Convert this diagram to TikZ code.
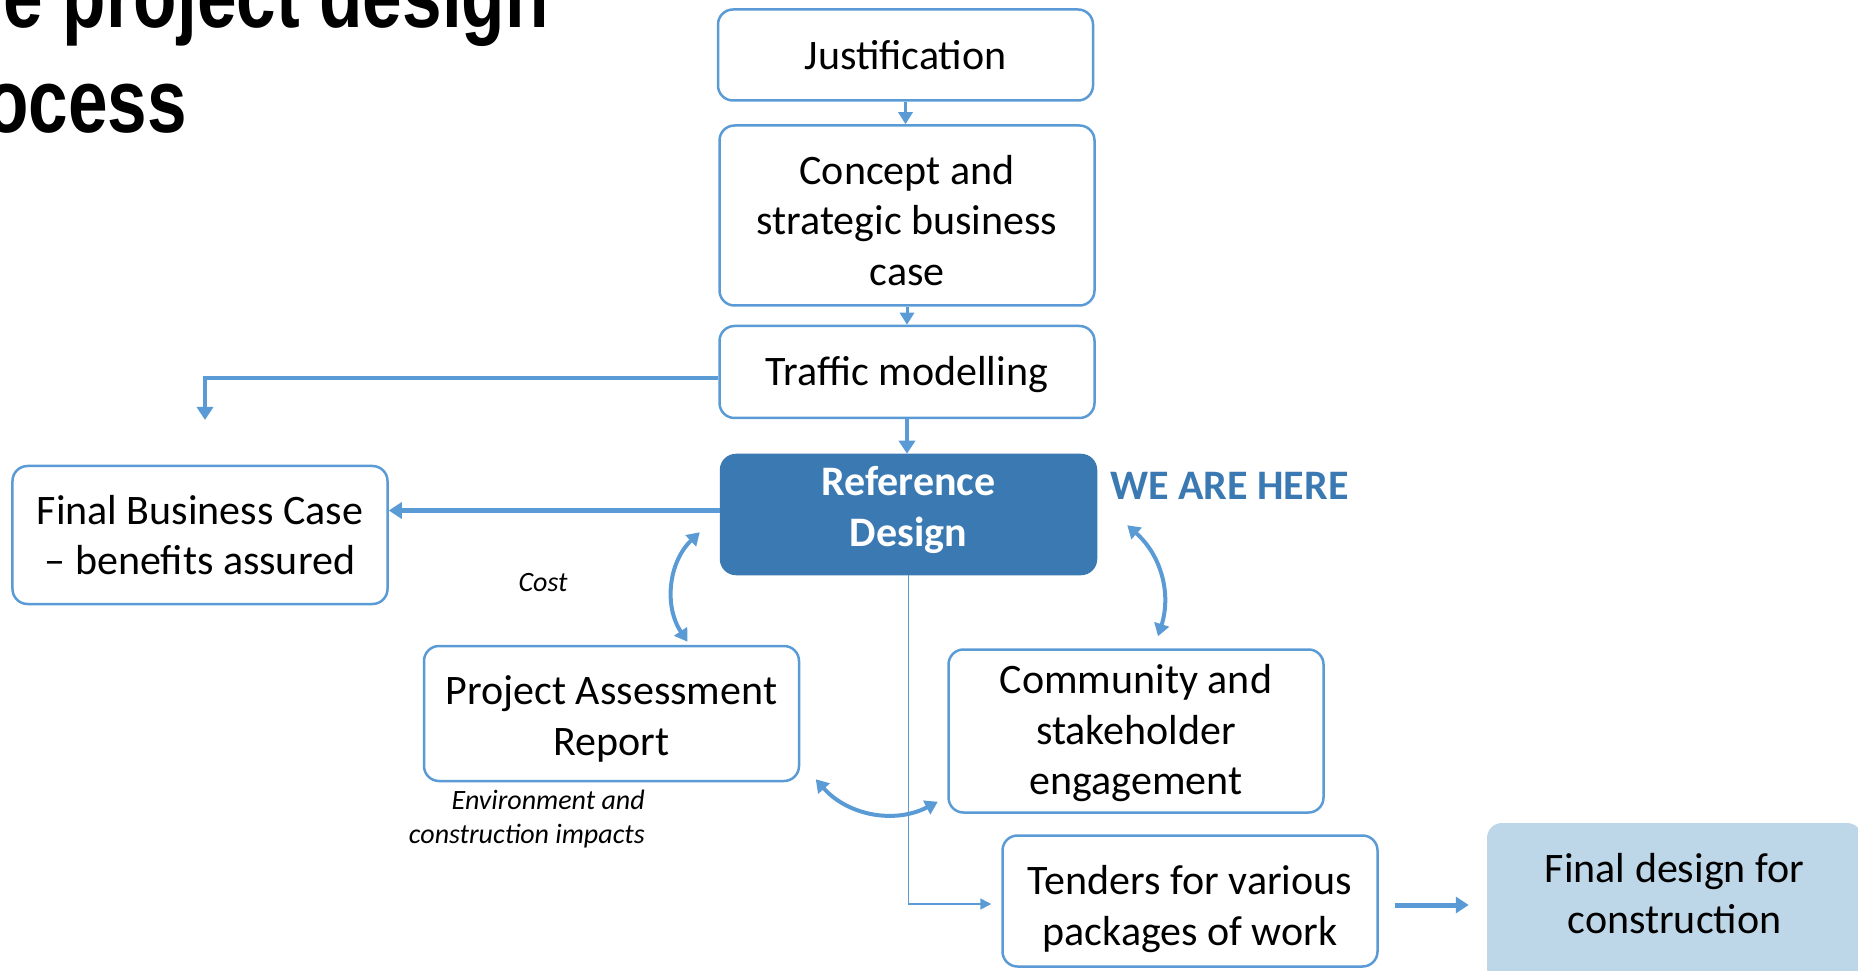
\documentclass[tikz,border=0pt]{standalone}
\usepackage{fontspec}
\setmainfont{Carlito}
\newfontfamily\titlefont{Liberation Sans}[FakeStretch=0.79]
\usetikzlibrary{arrows.meta}

\definecolor{boxblue}{RGB}{91,155,213}
\definecolor{refblue}{RGB}{58,121,178}
\definecolor{finalfill}{RGB}{190,215,232}

\tikzset{every picture/.style={line width=1pt}}
\tikzset{
  stepbox/.style={draw=boxblue, line width=1pt, rounded corners=6pt, fill=white, align=center, minimum width=150pt, inner sep=0pt, font=\fontsize{16.8}{20.2}\selectfont},
  refbox/.style={stepbox, draw=refblue, fill=refblue, text=white, font=\fontsize{16.8}{20.2}\selectfont\bfseries},
  endbox/.style={stepbox, draw=none, fill=finalfill},
  note/.style={inner sep=0pt, font=\fontsize{11.2}{13.4}\selectfont\itshape},
  flow/.style={draw=boxblue, line width=1.2pt, -{Triangle[width=5.6pt,length=4.8pt]}},
  bigflow/.style={draw=boxblue, line width=1.7pt, -{Triangle[width=6.4pt,length=5.2pt]}},
  thinflow/.style={draw=boxblue, line width=0.6pt, -{Triangle[width=4.4pt,length=4.4pt]}},
  twoway/.style={draw=boxblue, line width=1.6pt, {Triangle[width=6pt,length=5pt]}-{Triangle[width=6pt,length=5pt]}}
}

\begin{document}
\begin{tikzpicture}[x=0.4pt,y=0.4pt,yscale=-1,xscale=1]
\useasboundingbox (0,0) rectangle (1858,971);
\clip (0,0) rectangle (1858,971);

% Title
\draw (550,28) node (title1) [anchor=base east, inner sep=0pt, font=\titlefont\fontsize{36}{41.6}\selectfont\bfseries] {e project design};
\draw (188,133) node (title2) [anchor=base east, inner sep=0pt, font=\titlefont\fontsize{36}{41.6}\selectfont\bfseries] {ocess};

%Rounded Rect: steps
\draw (905.5,55) node (just) [stepbox, minimum height=36.4pt] {Justification};
\draw (907,215.5) node (concept) [stepbox, minimum height=72pt] {\raisebox{4pt}{\vphantom{Cd}}Concept and\\strategic business\\case};
\draw (907,372) node (traffic) [stepbox, minimum height=36.8pt] {\raisebox{2pt}{\vphantom{Tfd}}Traffic modelling};
\draw (908.5,514.5) node (ref) [refbox, minimum height=47.6pt] {Reference\\Design\raisebox{-3.8pt}{\vphantom{g}}};
\draw (200,535) node (fbc) [stepbox, minimum height=55.2pt] {Final Business Case\\-- benefits assured};
\draw (611.5,713.5) node (par) [stepbox, minimum height=54pt] {\raisebox{4.2pt}{\vphantom{Pj}}Project Assessment\\Report};
\draw (1136,731) node (comm) [stepbox, minimum height=65.2pt] {\raisebox{2pt}{\vphantom{Cd}}Community and\\stakeholder\\engagement};
\draw (1190,901) node (tend) [stepbox, minimum height=52.4pt] {\raisebox{6.6pt}{\vphantom{Tdf}}Tenders for various\\packages of work};
\draw (1674.5,903) node (final) [endbox, minimum height=64pt] {Final design for\\construction\raisebox{-7.6pt}{\vphantom{x}}};

% Text Node
\draw (1109,499) node (here) [anchor=base west, inner sep=0pt, text=refblue, font=\fontsize{16.8}{20.2}\selectfont\bfseries] {WE ARE HERE};
% Text Node
\draw (543,583) node (cost) [note] {Cost};
% Text Node
\draw (646,819) node (impacts) [note, anchor=east, align=right] {Environment and\\construction impacts};

%Straight Lines
\draw [flow] (just.south) -- (just.south |- concept.north);
\draw [flow] (concept.south) -- (concept.south |- traffic.north);
\draw [bigflow] (traffic.south) -- (traffic.south |- ref.north);
\coordinate (fbcin) at (205,420);
\draw [bigflow] ([shift={(0,6)}]traffic.west) -| (fbcin);
\draw [bigflow] ([shift={(0,-4)}]ref.west) -- ([shift={(0,-4)}]ref.west -| fbc.east);
\draw [thinflow, shorten >=4pt] (ref.south) |- ([shift={(0,3)}]tend.west);
\draw [bigflow, line width=2pt, shorten <=6.4pt, shorten >=6.8pt] ([shift={(0,4)}]tend.east) -- ([shift={(0,4)}]tend.east -| final.west);

%Curve Lines
\draw [twoway] ([shift={(-20,-43)}]ref.south west) to[bend left=40] ([shift={(76,-3)}]par.north);
\draw [twoway] ([shift={(30,-50)}]ref.south east) to[bend right=33] ([shift={(22,-12)}]comm.north);
\draw [twoway] ([shift={(15.5,-3)}]par.south east) to[bend left=38] ([shift={(-9.5,-12)}]comm.south west);

\end{tikzpicture}
\end{document}
